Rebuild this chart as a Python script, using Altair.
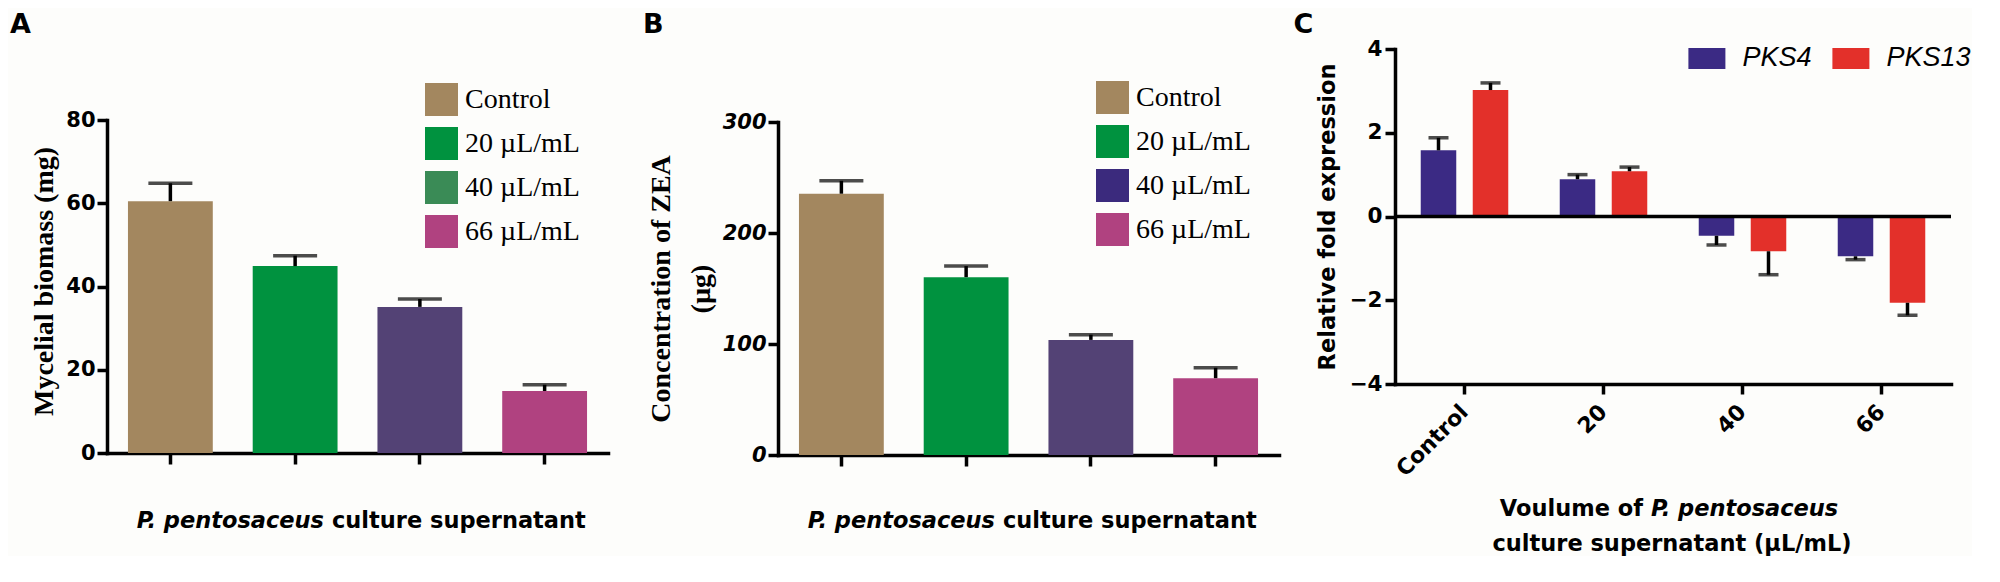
import altair as alt
import pandas as pd

SANS = "DejaVu Sans"
SERIF = "Liberation Serif"

panel_letters = ["A", "B", "C"]

# ---------- Panel A / B data ----------
ab_cats = ["Control", "20 µL/mL", "40 µL/mL", "66 µL/mL"]
ab_bar_colors = ["#A3875F", "#00923F", "#534275", "#B04280"]

a_vals = [60.5, 44.9, 35.1, 14.9]
a_errs = [4.3, 2.5, 1.9, 1.5]
a_legend_colors = ["#A3875F", "#00923F", "#3A8B56", "#B04280"]
a_ticks = [0, 20, 40, 60, 80]

b_vals = [235.4, 160.2, 103.7, 69.2]
b_errs = [11.6, 10.0, 4.7, 9.4]
b_legend_colors = ["#A3875F", "#00923F", "#3B2A7D", "#B04280"]
b_ticks = [0, 100, 200, 300]

xtitle_italic = "P. pentosaceus"
xtitle_rest = "culture supernatant"

# ---------- Panel C data ----------
c_cats = ["Control", "20", "40", "66"]
c_series = ["PKS4", "PKS13"]
c_pks4 = [1.58, 0.89, -0.46, -0.95]
c_pks4_err = [0.30, 0.11, 0.22, 0.08]
c_pks13 = [3.02, 1.08, -0.83, -2.06]
c_pks13_err = [0.17, 0.10, 0.56, 0.30]
c_colors = ["#3B2A84", "#E3302A"]
c_ticks = [-4, -2, 0, 2, 4]
c_title_l1a = "Voulume of"
c_title_l1b = "P. pentosaceus"
c_title_l2 = "culture supernatant (µL/mL)"

one = pd.DataFrame({"k": [0]})


def text_layer(txt, x, y, size, weight="bold", style="normal", align="left",
               font=SANS, baseline="alphabetic"):
    return alt.Chart(one).mark_text(
        text=txt, font=font, fontSize=size, fontWeight=weight, fontStyle=style,
        align=align, baseline=baseline, color="black"
    ).encode(x=alt.value(x), y=alt.value(y))


def bar_panel(vals, errs, legend_colors, ticks, y_title, letter, label_style,
              width, height, top_gap, legend_xy, title_pad, title_y,
              title_lh=None, letter_x=-97):
    df = pd.DataFrame({
        "cat": ab_cats,
        "val": vals,
        "err": errs,
        "hi": [v + e for v, e in zip(vals, errs)],
        "barcolor": ab_bar_colors,
    })
    x = alt.X("cat:N", sort=ab_cats,
              scale=alt.Scale(domain=ab_cats, range=[0, 501],
                              paddingInner=0.32, paddingOuter=0.168),
              axis=alt.Axis(labels=False, title=None, tickSize=11, tickWidth=3.5,
                            tickColor="black", domainColor="black", domainWidth=3.5,
                            domainCap="square", grid=False))
    yscale = alt.Scale(domain=[0, ticks[-1]], range=[height, top_gap], nice=False)
    axis_kw = dict(values=ticks, title=y_title, titleFont=SERIF, titleFontWeight="bold",
                   titleFontSize=28, titleColor="black", titlePadding=title_pad,
                   titleY=title_y,
                   labelFont=SANS, labelFontWeight="bold", labelFontStyle=label_style,
                   labelFontSize=21, labelColor="black", labelPadding=2,
                   tickSize=10, tickWidth=3.5, tickColor="black",
                   domainColor="black", domainWidth=3.5, domainCap="square", grid=False)
    if title_lh:
        axis_kw["titleLineHeight"] = title_lh
    yaxis = alt.Axis(**axis_kw)
    base = alt.Chart(df)
    bars = base.mark_bar().encode(
        x=x, y=alt.Y("val:Q", scale=yscale, axis=yaxis),
        fill=alt.Fill("barcolor:N", scale=None))
    stem = base.mark_rule(color="black", strokeWidth=3.5).encode(
        x=x, y=alt.Y("val:Q", scale=yscale, axis=yaxis), y2="hi:Q")
    cap = base.mark_tick(color="black", thickness=3.5, size=44).encode(
        x=x, y=alt.Y("hi:Q", scale=yscale, axis=yaxis))
    leg = base.mark_square(opacity=0, size=10).encode(
        x=x, y=alt.Y("val:Q", scale=yscale, axis=yaxis),
        color=alt.Color("cat:N", sort=ab_cats,
                        scale=alt.Scale(domain=ab_cats, range=legend_colors),
                        legend=alt.Legend(orient="none", legendX=legend_xy[0],
                                          legendY=legend_xy[1], title=None,
                                          symbolType="square", symbolSize=1089,
                                          symbolOpacity=1, symbolStrokeWidth=0,
                                          labelFont=SERIF, labelFontSize=28,
                                          labelColor="black", labelOffset=7,
                                          rowPadding=11, padding=0, labelLimit=400)))
    lab = text_layer(letter, letter_x, -16, 27)
    t1 = text_layer(xtitle_italic, 217, 478.7, 22.5, style="italic", align="right")
    t2 = text_layer(xtitle_rest, 225, 478.7, 22.5, align="left")
    return alt.layer(bars, stem, cap, leg, lab, t1, t2).properties(width=width, height=height)


panel_a = bar_panel(a_vals, a_errs, a_legend_colors, a_ticks, "Mycelial biomass (mg)",
                    panel_letters[0], "normal", 522, 404, 71, (318, 34), 7.4, 232)
panel_b = bar_panel(b_vals, b_errs, b_legend_colors, b_ticks,
                    ["Concentration of ZEA", "(µg)"], panel_letters[1], "italic",
                    501, 406, 73, (318, 32), 7, 239.5, title_lh=40, letter_x=-135)

# ---------- Panel C ----------
rows = []
for i, c in enumerate(c_cats):
    for s, v, e in (("PKS4", c_pks4[i], c_pks4_err[i]), ("PKS13", c_pks13[i], c_pks13_err[i])):
        rows.append({"cat": c, "series": s, "val": v,
                     "end": v + e if v >= 0 else v - e})
dfc = pd.DataFrame(rows)

cx = alt.X("cat:N", sort=c_cats,
           scale=alt.Scale(domain=c_cats, paddingInner=0, paddingOuter=0),
           axis=alt.Axis(title=None, labelAngle=-45, labelAlign="right", labelBaseline="middle",
                         labelFont=SANS, labelFontWeight="bold", labelFontSize=22,
                         labelColor="black", labelPadding=14, tickSize=10, tickWidth=3.5,
                         tickColor="black", domainColor="black", domainWidth=3.5,
                         domainCap="square", grid=False))
cxo = alt.XOffset("series:N", sort=c_series,
                  scale=alt.Scale(domain=c_series, paddingInner=0.317, paddingOuter=0.495))
cyscale = alt.Scale(domain=[-4, 4], nice=False)
cyaxis = alt.Axis(values=c_ticks, title="Relative fold expression", titleFont=SANS,
                  titleFontWeight="bold", titleFontSize=22.5, titleColor="black",
                  titlePadding=9.7, labelFont=SANS, labelFontWeight="bold",
                  labelFontSize=21.5, labelColor="black", labelPadding=3, tickSize=10,
                  tickWidth=3.5, tickColor="black", domainColor="black", domainWidth=3.5,
                  domainCap="square", grid=False)
cbase = alt.Chart(dfc)
cbars = cbase.mark_bar().encode(
    x=cx, xOffset=cxo, y=alt.Y("val:Q", scale=cyscale, axis=cyaxis),
    color=alt.Color("series:N", sort=c_series,
                    scale=alt.Scale(domain=c_series, range=c_colors),
                    legend=alt.Legend(orient="none", legendX=293.4, legendY=-9.3,
                                      direction="horizontal", title=None,
                                      symbolType="M-1,-0.57H1V0.57H-1Z", symbolSize=1369,
                                      symbolStrokeWidth=0, symbolOpacity=1,
                                      labelFont="Liberation Sans", labelFontStyle="italic",
                                      labelFontSize=27, labelColor="black", labelOffset=17,
                                      columnPadding=20, padding=0, labelLimit=300)))
cstem = cbase.mark_rule(color="black", strokeWidth=3.5).encode(
    x=cx, xOffset=cxo, y=alt.Y("val:Q", scale=cyscale, axis=cyaxis), y2="end:Q")
ccap = cbase.mark_tick(color="black", thickness=3.5, size=20).encode(
    x=cx, xOffset=cxo, y=alt.Y("end:Q", scale=cyscale, axis=cyaxis))
zero = alt.Chart(one).transform_calculate(z="0").mark_rule(
    color="black", strokeWidth=3.5
).encode(y=alt.Y("z:Q", scale=cyscale, axis=cyaxis))
clab = text_layer(panel_letters[2], -101.6, -16.3, 27)
ct1 = text_layer(c_title_l1a, 248, 466.7, 22.5, align="right")
ct2 = text_layer(c_title_l1b, 256, 466.7, 22.5, style="italic", align="left")
ct3 = text_layer(c_title_l2, 277, 502.4, 22.5, align="center")

panel_c = alt.layer(cbars, zero, cstem, ccap, clab, ct1, ct2, ct3).properties(width=556, height=335)

chart = alt.hconcat(panel_a, panel_b, panel_c, spacing=14).resolve_scale(
    x="independent", y="independent", color="independent"
).properties(
    padding={"left": 2, "top": 2, "right": 0, "bottom": 0},
    background="#FDFDFB",
).configure_view(stroke=None)

chart.save("out.html", embed_options={"renderer": "svg", "actions": False})
